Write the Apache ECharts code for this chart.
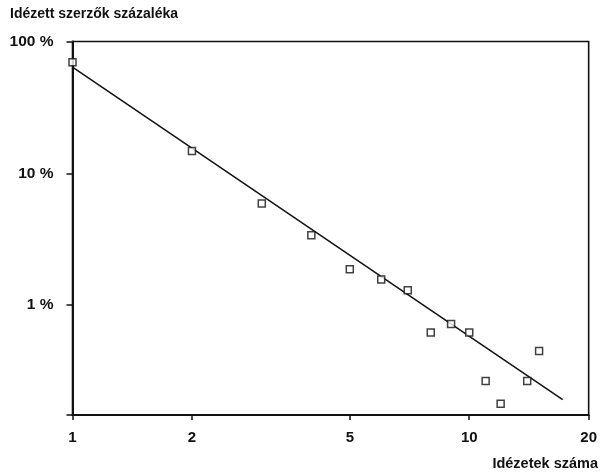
<!DOCTYPE html>
<html>
<head>
<meta charset="utf-8">
<script src="https://cdn.jsdelivr.net/npm/echarts@6/dist/echarts.min.js"></script>
<style>
html,body{margin:0;padding:0;background:#fff;}
#chart{width:600px;height:474px;}
</style>
</head>
<body>
<div id="chart"></div>
<script>
// Number of citations (x) and share of cited authors in % (y)
var citations = [1, 2, 3, 4, 5, 6, 7, 8, 9, 10, 11, 12, 14, 15];
var sharePct  = [69.6, 14.8, 5.9, 3.4, 1.87, 1.57, 1.30, 0.62, 0.72, 0.62, 0.266, 0.179, 0.266, 0.45];
// fitted power-law line (end points)
var fitX = [1, 17.2];
var fitY = [64, 0.192];
var xTicks = [1, 2, 5, 10, 20];
var yTicks = [1, 10, 100];
var yMin = 0.147, yMax = 100;
var xMin = 1, xMax = 20;

var scatterData = citations.map(function (c, i) { return [c, sharePct[i]]; });
var lineData = fitX.map(function (c, i) { return [c, fitY[i]]; });

var font = '"Liberation Sans", Arial, sans-serif';
var chart = echarts.init(document.getElementById('chart'), null, {renderer: 'canvas'});
chart.setOption({
  animation: false,
  backgroundColor: '#fff',
  grid: {left: 72.5, right: 9.5, top: 41.5, bottom: 59, show: true, borderColor: '#111', borderWidth: 1.6, backgroundColor: 'transparent'},
  graphic: [
    {type: 'text', left: 10, top: 7, style: {text: 'Idézett szerzők százaléka', font: 'bold 14px ' + font, fill: '#111'}},
    {type: 'text', right: 2, top: 456, style: {text: 'Idézetek száma', font: 'bold 14.5px ' + font, fill: '#111'}}
  ],
  xAxis: {
    type: 'log', logBase: 10, min: xMin, max: xMax,
    axisLine: {show: true, lineStyle: {color: '#111', width: 2}},
    axisTick: {show: true, length: 5, lineStyle: {color: '#111', width: 1.5}, customValues: xTicks},
    axisLabel: {customValues: xTicks, color: '#111', fontFamily: font, fontWeight: 'bold', fontSize: 15, margin: 15},
    splitLine: {show: false}, minorTick: {show: false}
  },
  yAxis: {
    type: 'log', logBase: 10, min: yMin, max: yMax,
    axisLine: {show: true, lineStyle: {color: '#111', width: 2}},
    axisTick: {show: true, length: 6, lineStyle: {color: '#111', width: 1.5}, customValues: [yMin].concat(yTicks)},
    axisLabel: {customValues: yTicks, color: '#111', fontFamily: font, fontWeight: 'bold', fontSize: 15.5, margin: 19,
      formatter: function (v) { return Math.round(v) + ' %'; }},
    splitLine: {show: false}, minorTick: {show: false}
  },
  series: [
    {type: 'line', data: lineData, symbol: 'none', lineStyle: {color: '#111', width: 1.5}, z: 2},
    {type: 'scatter', data: scatterData, symbol: 'rect', symbolSize: 7,
      itemStyle: {color: '#fff', borderColor: '#111', borderWidth: 1.5}, z: 3}
  ]
});
</script>
</body>
</html>
